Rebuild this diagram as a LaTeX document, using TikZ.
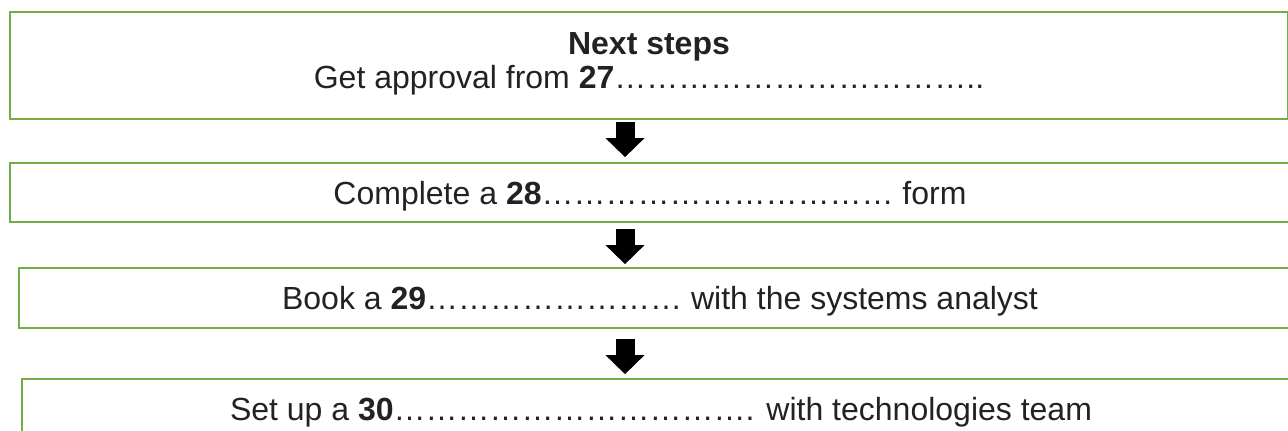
\documentclass[tikz,border=0pt]{standalone}
\usepackage{fontspec}
\setmainfont{Liberation Sans}
\usetikzlibrary{arrows.meta}
\definecolor{boxgreen}{HTML}{70AD47}
\definecolor{inkgray}{HTML}{222222}
\tikzset{
    stepbox/.style={
      draw=boxgreen, line width=0.9pt, rectangle, inner sep=0pt, text=inkgray,
      font=\fontsize{16pt}{17pt}\selectfont, text height=11.5pt, text depth=0pt,
    },
    downarrow/.style={
      line width=9.5pt, -{Triangle[width=19.5pt,length=9.5pt,line width=0pt]},
    },
  }

\begin{document}
\begin{tikzpicture}[x=0.5pt,y=-0.5pt]
      % canvas
      \useasboundingbox (0,0) rectangle (1288,430);
      \clip (0,0) rectangle (1288,430);

      % step boxes
      \node[stepbox,align=center,minimum width=639pt,minimum height=53.5pt,text height=28.5pt,text depth=5.5pt]
        (approval) at (649,65.5) {\textbf{Next steps}\\Get approval from \textbf{27}……………………………..};
      \node[stepbox,minimum width=640pt,minimum height=29.5pt]
        (form) at (650,192.5) {Complete a \textbf{28}…………………………… form};
      \node[stepbox,minimum width=641pt,minimum height=30pt]
        (meeting) at (660,298) {Book a \textbf{29}…………………… with the systems analyst};
      \node[stepbox,minimum width=639pt,minimum height=30pt]
        (team) at (661,409) {Set up a \textbf{30}……………………………. with technologies team};

      % arrows between the steps
      \coordinate (spine) at (625,0);
      \draw[downarrow,shorten <=1pt,shorten >=2.5pt] (approval.south -| spine) -- (form.north -| spine);
      \draw[downarrow,shorten <=3pt,shorten >=1.5pt] (form.south -| spine) -- (meeting.north -| spine);
      \draw[downarrow,shorten <=5pt,shorten >=2pt] (meeting.south -| spine) -- (team.north -| spine);
    \end{tikzpicture}
\end{document}
